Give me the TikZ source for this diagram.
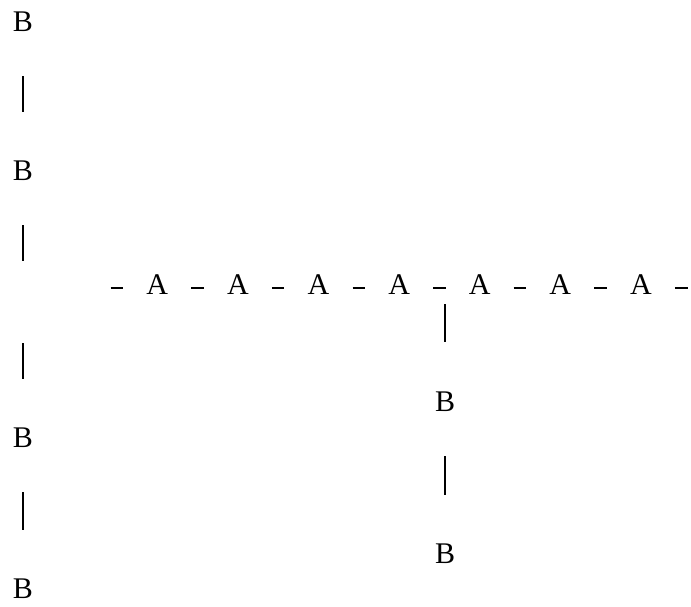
\documentclass[tikz,border=0pt]{standalone}
\usepackage{fontspec}
\setmainfont{Liberation Serif}
\usepackage{tikz}
\usetikzlibrary{positioning}

\begin{document}
\begin{tikzpicture}[
    x=1pt, y=-1pt,
    atom/.style={inner sep=0pt, font=\fontsize{30}{36}\selectfont},
    hbond/.style={line width=1.3pt, shorten <=23pt, shorten >=23pt, transform canvas={yshift=-3pt}},
    vbond/.style={line width=1.3pt, shorten <=44pt, shorten >=49pt}
]
\useasboundingbox (0,0) rectangle (691,606);

\node[atom] (a1) at (157.3,285) {A};
\node[atom] (a2) at (237.9,285) {A};
\node[atom] (a3) at (318.5,285) {A};
\node[atom] (a4) at (399.1,285) {A};
\node[atom] (a5) at (479.7,285) {A};
\node[atom] (a6) at (560.3,285) {A};
\node[atom] (a7) at (640.9,285) {A};

\node[atom] (b1) at (23,22) {B};
\node[atom] (b2) at (23,171) {B};
\node[atom] (b3) at (23,438) {B};
\node[atom] (b4) at (23,589) {B};

\node[atom] (c1) at (445,402) {B};
\node[atom] (c2) at (445,554) {B};

\coordinate (r0) at (110.5,285);
\coordinate (r8) at (687.7,285);
\coordinate (l2) at (23,261);
\coordinate (l3) at (23,343);
\coordinate (t0) at (445,304);

\draw[hbond, shorten <=0pt] (r0) -- (a1);
\draw[hbond] (a1) -- (a2);
\draw[hbond] (a2) -- (a3);
\draw[hbond] (a3) -- (a4);
\draw[hbond] (a4) -- (a5);
\draw[hbond] (a5) -- (a6);
\draw[hbond] (a6) -- (a7);
\draw[hbond, shorten >=0pt] (a7) -- (r8);

\draw[vbond] (b1) -- (b2);
\draw[vbond, shorten >=0pt] (b2) -- (l2);
\draw[vbond, shorten <=0pt] (l3) -- (b3);
\draw[vbond] (b3) -- (b4);

\draw[vbond, shorten <=0pt, shorten >=50pt] (t0) -- (c1);
\draw[vbond] (c1) -- (c2);

\end{tikzpicture}
\end{document}
